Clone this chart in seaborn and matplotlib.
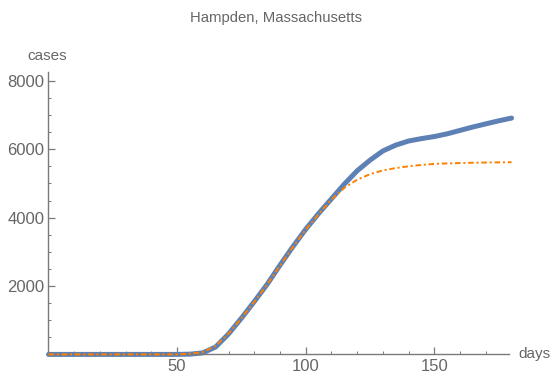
import numpy as np
import pandas as pd
import matplotlib
matplotlib.use("Agg")
import matplotlib.pyplot as plt
import seaborn as sns
from matplotlib.ticker import MultipleLocator

# reported cases, read every 5 days
days = [0, 5, 10, 15, 20, 25, 30, 35, 40, 45, 50, 55, 60, 65, 70, 75, 80, 85, 90,
        95, 100, 105, 110, 115, 120, 125, 130, 135, 140, 145, 150, 155, 160, 165,
        170, 175, 180]
cases = [0, 0, 0, 0, 0, 0, 0, 0, 0, 0, 0, 8, 45, 220, 600, 1060, 1545, 2050, 2610,
         3150, 3660, 4120, 4550, 4980, 5370, 5680, 5950, 6120, 6240, 6310, 6370,
         6450, 6550, 6650, 6740, 6830, 6910]
# fitted curve
fit = [0, 0, 0, 0, 0, 0, 0, 0, 0, 0, 3, 20, 70, 250, 610, 1060, 1540, 2040, 2600,
       3140, 3650, 4100, 4530, 4870, 5110, 5270, 5380, 5450, 5500, 5540, 5570,
       5585, 5595, 5605, 5610, 5615, 5620]

df = pd.DataFrame({"day": days, "cases": cases, "fit": fit})

sns.set_style("white")
plt.rcParams["font.family"] = ["Liberation Sans", "DejaVu Sans"]
plt.rcParams["lines.scale_dashes"] = False

axis_col = "#7a7a7a"
text_col = "#666666"

fig = plt.figure(figsize=(5.53, 3.76), dpi=100)
ax = fig.add_axes([0.0877, 0.0574, 0.9204 - 0.0877, 0.8085 - 0.0574])

sns.lineplot(data=df, x="day", y="cases", ax=ax, color="#5E81B5", lw=3.6,
             clip_on=False, zorder=2)
sns.lineplot(data=df, x="day", y="fit", ax=ax, color="#FF8000", lw=1.4,
             linestyle=(0, (4.0, 2.0, 1.5, 2.0)), clip_on=False, zorder=3)

ax.set_xlim(0, 179)
ax.set_ylim(0, 8257)
ax.set_xticks([50, 100, 150])
ax.xaxis.set_minor_locator(MultipleLocator(10))
ax.set_yticks([2000, 4000, 6000, 8000])
ax.yaxis.set_minor_locator(MultipleLocator(500))

for side in ["top", "right"]:
    ax.spines[side].set_visible(False)
for side in ["left", "bottom"]:
    ax.spines[side].set_color(axis_col)
    ax.spines[side].set_linewidth(1.0)

ax.tick_params(which="both", bottom=True, left=True)
ax.tick_params(which="major", direction="in", length=5, width=0.9,
               color=axis_col, labelcolor=text_col, labelsize=12, pad=3)
ax.tick_params(which="minor", direction="in", length=2.5, width=0.7,
               color=axis_col)
ax.set_xlabel("")
ax.set_ylabel("")

fig.text(0.5, 0.952, "Hampden, Massachusetts", ha="center", va="center",
         fontsize=10.7, color=text_col)
fig.text(0.049, 0.851, "cases", ha="left", va="center", fontsize=11,
         color=text_col)
fig.text(0.937, 0.0574, "days", ha="left", va="center", fontsize=11,
         color=text_col)

fig.savefig("out.png", dpi=100)
